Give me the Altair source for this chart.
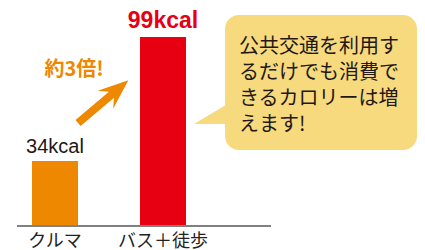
import altair as alt
import pandas as pd

categories = ["クルマ", "バス＋徒歩"]
values = [34, 99]
value_labels = ["34kcal", "99kcal"]
bar_colors = ["#EE8800", "#E60012"]
ratio_label = "約3倍!"
bubble_lines = ["公共交通を利用す", "るだけでも消費で", "きるカロリーは増", "えます!"]

df = pd.DataFrame({"cat": categories, "val": values, "lab": value_labels})
one = pd.DataFrame({"k": [0]})

JP = "Noto Sans CJK JP"

x_enc = alt.X("cat:N", sort=categories,
              scale=alt.Scale(domain=categories, range=[-7, 209],
                              paddingInner=0.574, paddingOuter=0.287),
              axis=alt.Axis(title=None, labelAngle=0, domain=False, ticks=False,
                            labelPadding=6, labelFont=JP, labelFontSize=18,
                            labelColor="#222222"))
y_enc = alt.Y("val:Q", scale=alt.Scale(domain=[0, 114.2], nice=False, zero=True),
              axis=None)

bubble = alt.Chart(one).mark_rect(color="#F6DA7D", cornerRadius=14).encode(
    x=alt.value(217), x2=alt.value(409), y=alt.value(7), y2=alt.value(142))

pointer = alt.Chart(one).mark_point(
    shape="M-1,0.6 L1.3,-0.78 L1.3,0.6 Z", filled=True, opacity=1,
    color="#F6DA7D", strokeWidth=0).encode(
    x=alt.value(202), y=alt.value(106.5), size=alt.value(1024))

bubble_text = alt.Chart(one).mark_text(
    text=bubble_lines, align="left", baseline="alphabetic", font=JP,
    fontSize=20, lineHeight=26, color="#231815").encode(
    x=alt.value(231), y=alt.value(45))

bars = alt.Chart(df).mark_bar().encode(
    x=x_enc, y=y_enc,
    color=alt.Color("cat:N", scale=alt.Scale(domain=categories, range=bar_colors),
                    legend=None))

baseline = alt.Chart(one).mark_rule(color="#808080", strokeWidth=2).encode(
    x=alt.value(9), x2=alt.value(263), y=alt.value(218))

lab1 = alt.Chart(df).transform_filter(alt.datum.cat == categories[0]).mark_text(
    font="Liberation Sans", fontSize=20, color="#231815", dy=-8,
    baseline="alphabetic").encode(x=x_enc, y=y_enc, text="lab:N")

lab2 = alt.Chart(df).transform_filter(alt.datum.cat == categories[1]).mark_text(
    font="Liberation Sans", fontSize=23, fontWeight="bold", color="#E60012", dy=-9,
    baseline="alphabetic").encode(x=x_enc, y=y_enc, text="lab:N")

ratio = alt.Chart(one).mark_text(
    text=ratio_label, font=JP, fontSize=20, fontWeight="bold", color="#EE8800",
    baseline="alphabetic", align="center").encode(x=alt.value(66), y=alt.value(67.5))

arrow = alt.Chart(one).mark_point(
    shape="M0,-1 L0.36,-0.09 L0.12,-0.33 L0.12,1 L-0.12,1 L-0.12,-0.33 L-0.36,-0.09 Z",
    filled=True, opacity=1, color="#EE8800", strokeWidth=0, angle=49.7).encode(
    x=alt.value(95.2), y=alt.value(93.7), size=alt.value(4356))

chart = alt.layer(bubble, pointer, bubble_text, bars, baseline, lab1, lab2, ratio, arrow).properties(
    width=409, height=218,
    autosize=alt.AutoSizeParams(type="none"),
    padding={"left": 0, "top": 0, "right": 0, "bottom": 24},
).configure_view(stroke=None)

chart.save("out.html", embed_options={"renderer": "svg", "actions": False})
